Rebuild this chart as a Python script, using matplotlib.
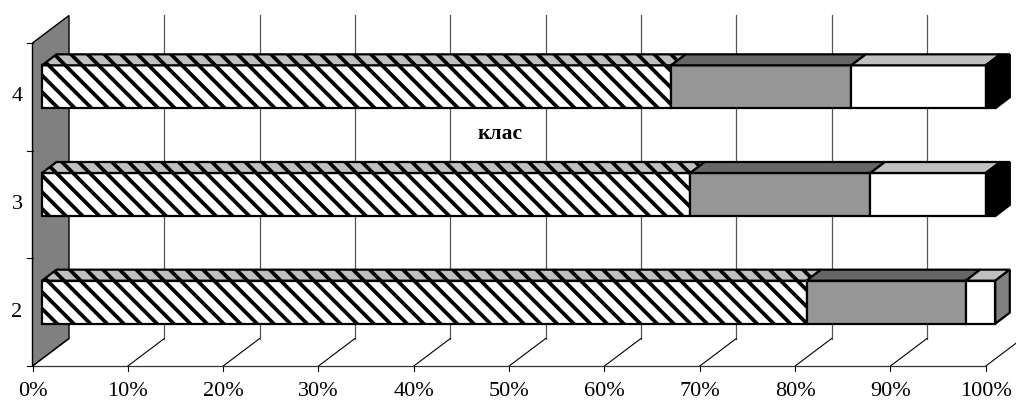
import matplotlib
matplotlib.use('Agg')
import matplotlib.pyplot as plt
from matplotlib.patches import Polygon

plt.rcParams['font.family'] = ['Liberation Serif', 'DejaVu Serif']
plt.rcParams['hatch.linewidth'] = 2.7

classes = ['2', '3', '4']
class_pos = [2, 3, 4]
hatched = [80.2, 68.0, 66.0]
grey = [16.7, 18.9, 18.9]
white = [3.1, 12.1, 14.1]
black = [0.0, 1.0, 1.0]
percent_ticks = list(range(0, 101, 10))
center_label = 'клас'

PX_X = 9.533  # пікселів на 1%
PX_Y = 107.67  # пікселів на клас
depth_x = 36.5 / PX_X
depth_y = 27.5 / PX_Y
bar_dx = 9.5 / PX_X
bar_dy = 10.0 / PX_Y
top_dx = 14.5 / PX_X
top_dy = 11.0 / PX_Y
bar_h = 43 / PX_Y

fig = plt.figure(figsize=(10.16, 4.0), dpi=100)
ax = fig.add_axes([0, 0, 1, 1])
ax.set_xlim(-32.5 / PX_X, (1016 - 32.5) / PX_X)
ax.set_ylim(1.5 + (366 - 400) / PX_Y, 1.5 + 366 / PX_Y)
ax.axis('off')

y_lo, y_hi = 1.5, 4.5

# Бічна стінка
ax.add_patch(Polygon([(0, y_lo), (depth_x, y_lo + depth_y), (depth_x, y_hi + depth_y), (0, y_hi)],
                     closed=True, fc='#808080', ec='black', lw=1.0, zorder=1))

# Сітка на задній стінці і на підлозі
for p in percent_ticks:
    if p > 0:
        ax.plot([p + depth_x, p + depth_x], [y_lo + depth_y, y_hi + depth_y], color='#555555', lw=0.9, zorder=1)
    ax.plot([p, p + depth_x], [y_lo, y_lo + depth_y], color='black', lw=0.8, zorder=1)
    ax.plot([p, p], [y_lo, y_lo - 5 / PX_Y], color='black', lw=0.8, zorder=1)
    ax.text(p, y_lo - 26 / PX_Y, f'{p}%', ha='center', va='center', fontsize=16, color='black')

# Осі
ax.plot([0, 100], [y_lo, y_lo], color='#333333', lw=0.9, zorder=1)
ax.plot([-6 / PX_X, 0], [y_lo, y_lo], color='black', lw=0.8, zorder=1)
for k in [2.5, 3.5, 4.5]:
    ax.plot([-6 / PX_X, 0], [k, k], color='black', lw=0.8, zorder=1)

for c, y in zip(classes, class_pos):
    ax.text(-15.5 / PX_X, y, c, ha='center', va='center', fontsize=16, color='black')

# Смуги
series = [
    (hatched, 'white', '#c0c0c0', '\\\\'),
    (grey, '#969696', '#666666', None),
    (white, 'white', '#c0c0c0', None),
    (black, 'black', 'black', None),
]
for i, y in enumerate(class_pos):
    yc = y + bar_dy
    left = bar_dx
    side_color = 'black' if black[i] > 0 else '#808080'
    for values, front, top, hatch in series:
        v = values[i]
        if v <= 0:
            continue
        ax.barh(yc, v, left=left, height=bar_h, color=front, edgecolor='black', linewidth=1.6,
                hatch=hatch, zorder=3)
        yt = yc + bar_h / 2
        ax.add_patch(Polygon([(left, yt), (left + v, yt), (left + v + top_dx, yt + top_dy), (left + top_dx, yt + top_dy)],
                             closed=True, fc=top, ec='black', lw=1.6, hatch=hatch, zorder=3))
        left += v
    yb = yc - bar_h / 2
    ax.add_patch(Polygon([(left, yb), (left + top_dx, yb + top_dy), (left + top_dx, yb + bar_h + top_dy), (left, yb + bar_h)],
                         closed=True, fc=side_color, ec='black', lw=1.6, zorder=3))

ax.text((500 - 32.5) / PX_X, 1.5 + (366 - 134) / PX_Y, center_label, ha='center', va='center',
        fontsize=15.5, fontweight='bold', color='black', zorder=4)

fig.savefig('out.png', dpi=100)
